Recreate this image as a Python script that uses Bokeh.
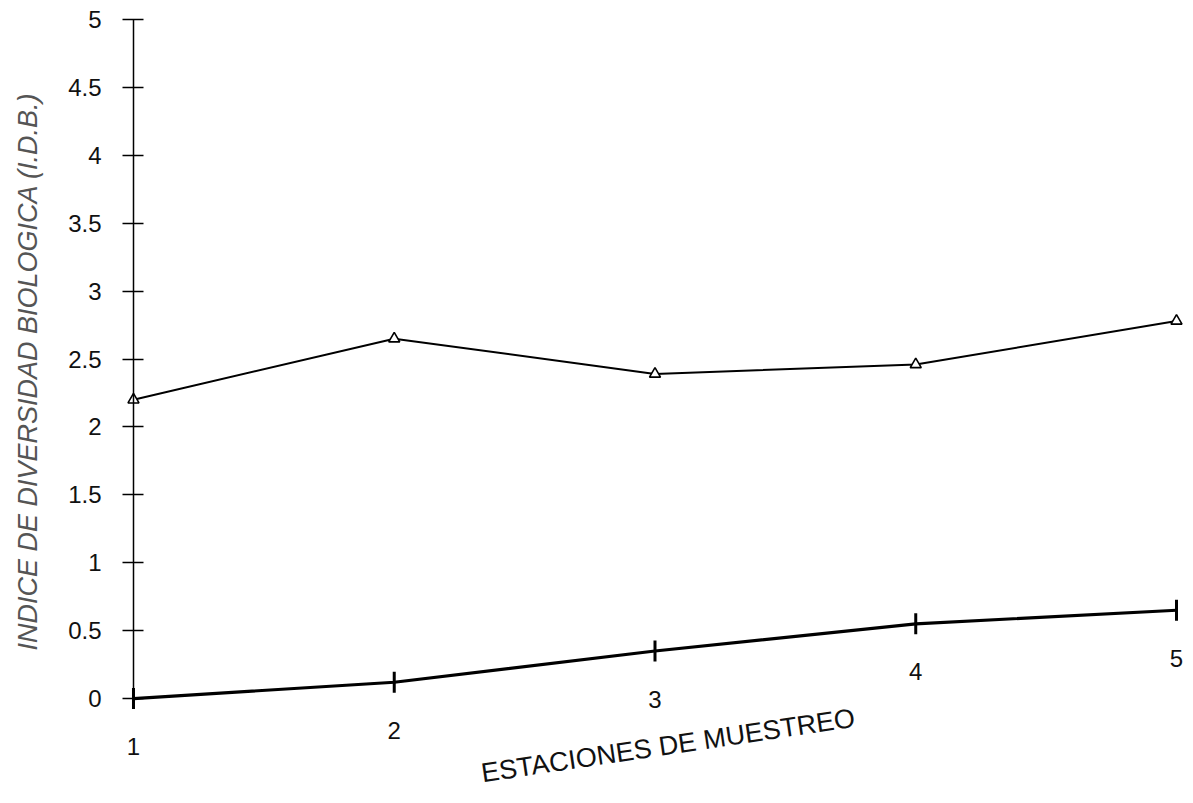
from bokeh.plotting import figure
from bokeh.models import Range1d, ColumnDataSource, Label, LabelSet, FixedTicker, Title
from bokeh.embed import file_html
from bokeh.resources import INLINE
from bokeh.core.properties import value

stations = [1, 2, 3, 4, 5]
station_labels = ["1", "2", "3", "4", "5"]
upper_idb = [2.20, 2.65, 2.39, 2.46, 2.78]
lower_idb = [0.00, 0.12, 0.35, 0.55, 0.65]
y_ticks = [0, 0.5, 1, 1.5, 2, 2.5, 3, 3.5, 4, 4.5, 5]

p = figure(width=1190, height=795, output_backend="svg", toolbar_location=None,
           x_axis_type=None, x_range=Range1d(0.6894, 5.0537), y_range=Range1d(-0.714, 5.14),
           min_border_left=50, min_border_right=0, min_border_top=0, min_border_bottom=0)
p.outline_line_color = None
p.grid.visible = False
p.background_fill_color = "white"

yax = p.yaxis[0]
yax.fixed_location = 1
yax.ticker = FixedTicker(ticks=y_ticks)
yax.bounds = (-0.07, 5)
yax.major_tick_in = 10
yax.major_tick_out = 11
yax.minor_tick_in = 0
yax.minor_tick_out = 0
yax.axis_line_width = 1.5
yax.major_tick_line_width = 1.5
yax.major_label_standoff = 21
yax.major_label_text_font = "Liberation Sans"
yax.major_label_text_font_size = "24px"
yax.major_label_text_color = "#111111"

ytitle = Title(text="INDICE DE DIVERSIDAD BIOLOGICA (I.D.B.)", align="left", offset=145,
               text_font="Liberation Sans", text_font_style="italic",
               text_font_size="27px", text_color="#555555", standoff=20)
p.add_layout(ytitle, "left")

src = ColumnDataSource(dict(x=stations, up=upper_idb, lo=lower_idb, lab=station_labels))

p.line("x", "up", source=src, line_color="black", line_width=2)
p.scatter("x", "up", source=src, marker="triangle", size=11, fill_color="white",
          line_color="black", line_width=1.6)

p.line("x", "lo", source=src, line_color="black", line_width=3.2)
p.scatter("x", "lo", source=src, marker="dash", angle=1.5708, size=21,
          line_color="black", line_width=3)

labels = LabelSet(x="x", y="lo", text="lab", source=src, y_offset=-48, text_align="center",
                  text_baseline="middle", text_font=value("Liberation Sans"),
                  text_font_size=value("24px"), text_color=value("#111111"))
p.add_layout(labels)

title = Label(x=3.05, y=-0.346, text="ESTACIONES DE MUESTREO", angle=8.5, angle_units="deg",
              text_align="center", text_baseline="middle", text_font="Liberation Sans",
              text_font_size="27px", text_color="#111111")
p.add_layout(title)

open("out.html", "w").write(file_html(p, INLINE))
